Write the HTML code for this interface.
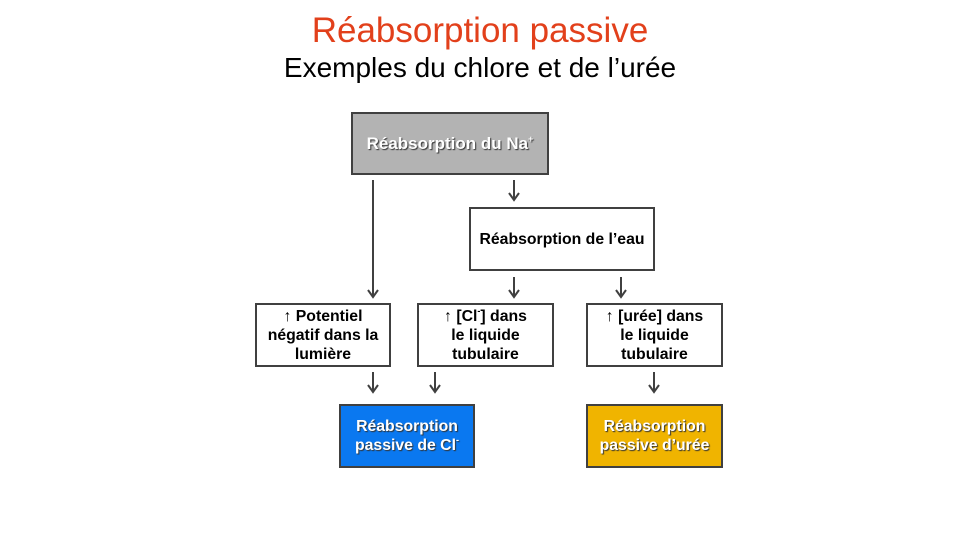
<!DOCTYPE html>
<html><head><meta charset="utf-8"><style>
body{margin:0;width:960px;height:540px;background:#fff;position:relative;overflow:hidden;font-family:"Liberation Sans",Arial,sans-serif}
.t{position:absolute;left:0;width:960px;text-align:center}
.b{position:absolute;box-sizing:border-box;border:2px solid #404040;display:flex;align-items:center;justify-content:center;text-align:center;font-weight:bold;font-size:15.8px;line-height:19px;color:#000}
.w{color:#fff;text-shadow:1px 1px 1px #333}
sup{font-size:9px;line-height:0;vertical-align:7px}
</style></head><body>
<div class="t" style="top:11px;font-size:35px;color:#e2401b">Réabsorption passive</div>
<div class="t" style="top:52px;font-size:28px;color:#000">Exemples du chlore et de l’urée</div>
<div class="b w" style="left:351px;top:112px;width:198px;height:63px;background:#b3b3b3;font-size:17px"><span>Réabsorption du Na<sup>+</sup></span></div>
<div class="b" style="left:469px;top:207px;width:186px;height:64px;background:#fff"><span>Réabsorption de l’eau</span></div>
<div class="b" style="left:255px;top:303px;width:136px;height:64px;background:#fff"><span>↑ Potentiel<br>négatif dans la<br>lumière</span></div>
<div class="b" style="left:417px;top:303px;width:137px;height:64px;background:#fff"><span>↑ [Cl<sup>-</sup>] dans<br>le liquide<br>tubulaire</span></div>
<div class="b" style="left:586px;top:303px;width:137px;height:64px;background:#fff"><span>↑ [urée] dans<br>le liquide<br>tubulaire</span></div>
<div class="b w" style="left:339px;top:404px;width:136px;height:64px;background:#0a78f0"><span>Réabsorption<br>passive de Cl<sup>-</sup></span></div>
<div class="b w" style="left:586px;top:404px;width:137px;height:64px;background:#f0b400"><span>Réabsorption<br>passive d’urée</span></div>
<svg style="position:absolute;left:0;top:0" width="960" height="540">
<g stroke="#404040" stroke-width="2" fill="none">
<path d="M373 180V297M368 290l5 7 5-7"/>
<path d="M514 180V200M509 193l5 7 5-7"/>
<path d="M514 277V297M509 290l5 7 5-7"/>
<path d="M621 277V297M616 290l5 7 5-7"/>
<path d="M373 372V392M368 385l5 7 5-7"/>
<path d="M435 372V392M430 385l5 7 5-7"/>
<path d="M654 372V392M649 385l5 7 5-7"/>
</g></svg>
</body></html>
